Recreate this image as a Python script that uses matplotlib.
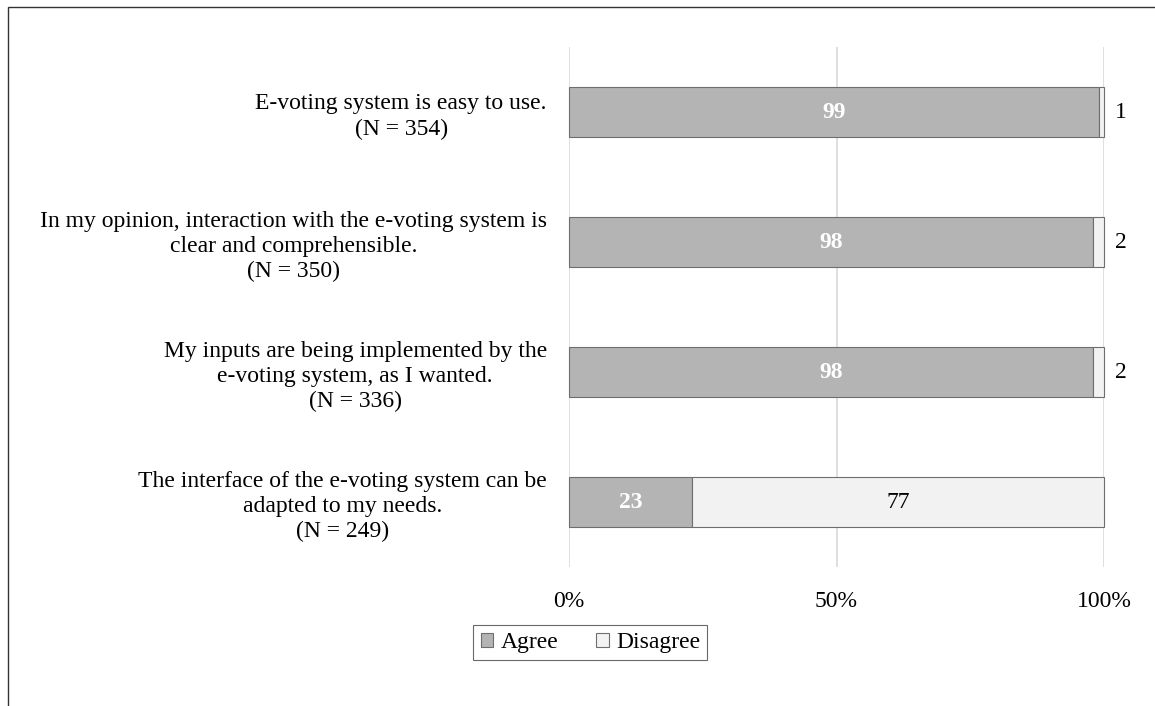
import numpy as np
import matplotlib.pyplot as plt
from matplotlib.patches import Rectangle

plt.rcParams['font.family'] = ['Liberation Serif', 'DejaVu Serif']

statements = [
    "E-voting system is easy to use.\n(N = 354)",
    "In my opinion, interaction with the e-voting system is\nclear and comprehensible.\n(N = 350)",
    "My inputs are being implemented by the\ne-voting system, as I wanted.\n(N = 336)",
    "The interface of the e-voting system can be\nadapted to my needs.\n(N = 249)",
]
agree = [99, 98, 98, 23]
disagree = [1, 2, 2, 77]

fs = 17
fig = plt.figure(figsize=(11.55, 7.06), dpi=100)
ax = fig.add_axes([569 / 1155, 1 - 567 / 706, 535 / 1155, 520 / 706])

y = np.arange(len(statements))
h = 0.39
b1 = ax.barh(y, agree, height=h, color='#b4b4b4', edgecolor='#6e6e6e', linewidth=0.8,
             label='Agree', zorder=3)
b2 = ax.barh(y, disagree, left=agree, height=h, color='#f2f2f2', edgecolor='#6e6e6e',
             linewidth=0.8, label='Disagree', zorder=3)
for p in list(b1) + list(b2):
    p.set_clip_on(False)

# value labels: white bold inside agree, black for disagree (outside if tiny)
for i in range(len(statements)):
    ax.text(agree[i] / 2, y[i], str(agree[i]), ha='center', va='center',
            color='white', fontsize=fs, fontweight='bold', zorder=4)
    if disagree[i] < 10:
        ax.text(102, y[i], str(disagree[i]), ha='left', va='center',
                color='black', fontsize=fs, zorder=4)
    else:
        ax.text(agree[i] + disagree[i] / 2, y[i], str(disagree[i]), ha='center',
                va='center', color='black', fontsize=fs, zorder=4)

ax.set_xlim(0, 100)
ax.set_ylim(len(statements) - 0.5, -0.5)
ax.set_xticks([0, 50, 100])
ax.set_xticklabels(['0%', '50%', '100%'], fontsize=fs)
ax.set_yticks(y)
ax.set_yticklabels(statements, fontsize=fs, multialignment='center', linespacing=1.25)
ax.tick_params(axis='both', length=0)
ax.tick_params(axis='x', pad=17)
ax.tick_params(axis='y', pad=16)
ax.xaxis.grid(True, color='#d9d9d9', linewidth=1.2, zorder=0)
for s in ax.spines.values():
    s.set_visible(False)

leg = ax.legend(loc='upper center', bbox_to_anchor=(0.04, -0.112), ncol=2,
                fontsize=fs, frameon=True, fancybox=False, handlelength=0.55,
                handleheight=0.55, handletextpad=0.3, columnspacing=1.6,
                borderpad=0.3, borderaxespad=0)
leg.get_frame().set_edgecolor('#444444')
leg.get_frame().set_linewidth(0.8)

# outer frame (only left/top visible in the reference)
fig.patches.append(Rectangle((8 / 1155, -0.1), 1.2, 1 - 7 / 706 + 0.1,
                             transform=fig.transFigure, fill=False,
                             edgecolor='#333333', linewidth=1.0))

fig.savefig('out.png', dpi=100)
